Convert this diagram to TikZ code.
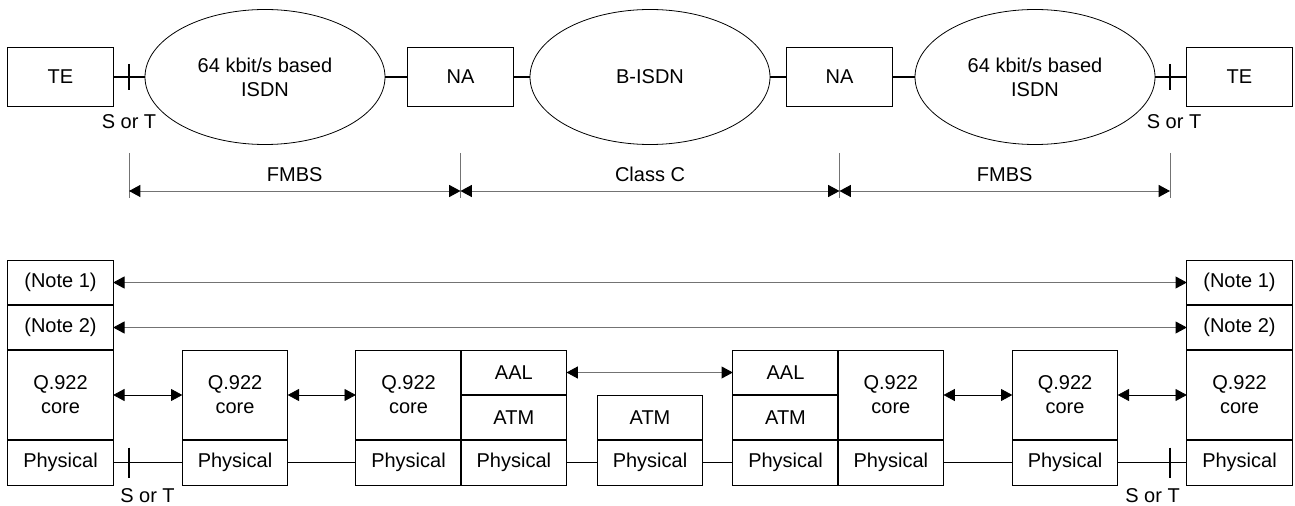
\documentclass[tikz,border=0pt]{standalone}
\usepackage{fontspec}
\setmainfont{Liberation Sans}
\usetikzlibrary{arrows.meta,shapes.geometric,positioning}

\begin{document}
\begin{tikzpicture}[x=0.75pt,y=0.75pt,yscale=-1,xscale=1,
  every node/.style={font=\fontsize{15}{18}\selectfont, inner sep=0pt, align=center},
  unit/.style={draw, line width=0.6pt, outer sep=0pt, minimum width=79pt, minimum height=44.25pt},
  cloud/.style={draw, ellipse, line width=0.6pt, minimum width=180pt, minimum height=101.25pt},
  cell/.style={draw, line width=0.6pt, outer sep=0pt, minimum width=79pt, minimum height=33.75pt},
  tall/.style={cell, minimum height=67.5pt},
  seam/.style={line width=1.3pt},
  wire/.style={line width=1.2pt},
  extline/.style={draw=black!55, line width=0.6pt},
  dimline/.style={draw=black!55, line width=0.75pt, {Triangle[color=black,length=8.5pt,width=9pt]}-{Triangle[color=black,length=8.5pt,width=9pt]}},
  peer/.style={line width=0.6pt, {Triangle[length=8.5pt,width=9pt]}-{Triangle[length=8.5pt,width=9pt]}}]
\path[use as bounding box] (0,0) rectangle (1295,506);

% Network chain
\node[unit] (teL) at (60.5,77) {TE};
\node[cloud] (isdnL) at (265,77) {64 kbit/s based\\ISDN};
\node[unit] (naL) at (460.5,77) {NA};
\node[cloud] (bisdn) at (650,77) {B-ISDN};
\node[unit] (naR) at (839.5,77) {NA};
\node[cloud] (isdnR) at (1035,77) {64 kbit/s based\\ISDN};
\node[unit] (teR) at (1239.5,77) {TE};

\coordinate (stTL) at (129,77);
\coordinate (stTR) at (1170,77);

\draw[wire] (teL) -- (isdnL);
\draw[wire] (isdnL) -- (naL);
\draw[wire] (naL) -- (bisdn);
\draw[wire] (bisdn) -- (naR);
\draw[wire] (naR) -- (isdnR);
\draw[wire] (isdnR) -- (teR);
\draw[wire] (stTL) ++(0,-13) -- ++(0,26);
\draw[wire] (stTR) ++(0,-13) -- ++(0,26);

\node (stTLlab) at (129,122) {S or T};
\node (stTRlab) at (1174,122) {S or T};

% Service spans
\coordinate (dA) at (129,191);
\coordinate (dB) at (naL.center |- dA);
\coordinate (dC) at (naR.center |- dA);
\coordinate (dD) at (stTR |- dA);

\draw[extline] (dA) ++(0,-38) -- ++(0,45);
\draw[extline] (dB) ++(0,-38) -- ++(0,45);
\draw[extline] (dC) ++(0,-38) -- ++(0,45);
\draw[extline] (dD) ++(0,-38) -- ++(0,45);

\draw[dimline] (dA) -- (dB) node[midway, above=6.75pt, black] (spanL) {FMBS};
\draw[dimline] (dB) -- (dC) node[midway, above=6.75pt, black] (spanM) {Class C};
\draw[dimline] (dC) -- (dD) node[midway, above=6.75pt, black] (spanR) {FMBS};

% Protocol stacks
\node[cell] (phL) at (60.5,462.5) {Physical};
\node[tall, above=0pt of phL] (qL) {Q.922\\core};
\node[cell, above=0pt of qL] (n2L) {(Note 2)};
\node[cell, above=0pt of n2L] (n1L) {(Note 1)};

\node[cell] (ph2) at (235,462.5) {Physical};
\node[tall, above=0pt of ph2] (q2) {Q.922\\core};

\node[cell] (ph3) at (408.5,462.5) {Physical};
\node[tall, above=0pt of ph3] (q3) {Q.922\\core};

\node[cell, right=0pt of ph3] (ph4) {Physical};
\node[cell, above=0pt of ph4] (atm4) {ATM};
\node[cell, above=0pt of atm4] (aal4) {AAL};

\node[cell] (ph5) at (650,462.5) {Physical};
\node[cell, above=0pt of ph5] (atm5) {ATM};

\node[cell] (ph6) at (785.5,462.5) {Physical};
\node[cell, above=0pt of ph6] (atm6) {ATM};
\node[cell, above=0pt of atm6] (aal6) {AAL};

\node[cell, right=0pt of ph6] (ph7) {Physical};
\node[tall, above=0pt of ph7] (q7) {Q.922\\core};

\node[cell] (ph8) at (1065,462.5) {Physical};
\node[tall, above=0pt of ph8] (q8) {Q.922\\core};

\node[cell] (phR) at (1239.5,462.5) {Physical};
\node[tall, above=0pt of phR] (qR) {Q.922\\core};
\node[cell, above=0pt of qR] (n2R) {(Note 2)};
\node[cell, above=0pt of n2R] (n1R) {(Note 1)};

% layer seams
\foreach \c in {phL,qL,n2L,ph2,ph3,ph4,atm4,ph5,ph6,atm6,ph7,ph8,phR,qR,n2R}
  \draw[seam] (\c.north west) -- (\c.north east);
\draw[seam] (ph4.south west) -- (aal4.north west);
\draw[seam] (ph7.south west) -- (q7.north west);

% Peer relations
\draw[dimline] (n1L) -- (n1R);
\draw[dimline] (n2L) -- (n2R);
\draw[dimline] (aal4) -- (aal6);
\draw[peer] (qL) -- (q2);
\draw[peer] (q2) -- (q3);
\draw[peer] (q7) -- (q8);
\draw[peer] (q8) -- (qR);

% Physical links
\coordinate (stBL) at (129,462.5);
\coordinate (stBR) at (1170,462.5);
\draw[wire] (phL) -- (ph2);
\draw[wire] (ph2) -- (ph3);
\draw[wire] (ph4) -- (ph5);
\draw[wire] (ph5) -- (ph6);
\draw[wire] (ph7) -- (ph8);
\draw[wire] (ph8) -- (phR);
\draw[wire] (stBL) ++(0,-15) -- ++(0,30);
\draw[wire] (stBR) ++(0,-15) -- ++(0,30);

\node[anchor=north west] (stBLlab) at (120,488) {S or T};
\node[anchor=north east] (stBRlab) at (1180,488) {S or T};

\end{tikzpicture}
\end{document}
